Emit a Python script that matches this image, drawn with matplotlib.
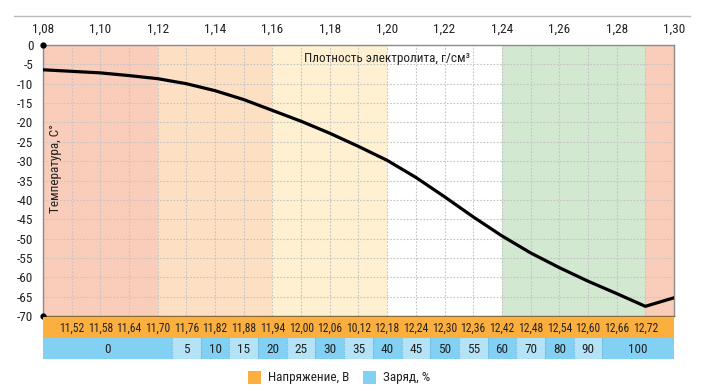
import matplotlib
matplotlib.use("Agg")
import matplotlib.pyplot as plt
from matplotlib.patches import Rectangle
from matplotlib.lines import Line2D

plt.rcParams['font.family'] = ['Roboto Condensed', 'Liberation Sans Narrow', 'Roboto', 'DejaVu Sans']

# ---- data ----
density = [1.08, 1.09, 1.10, 1.11, 1.12, 1.13, 1.14, 1.15, 1.16, 1.17, 1.18, 1.19,
           1.20, 1.21, 1.22, 1.23, 1.24, 1.25, 1.26, 1.27, 1.28, 1.29, 1.30]
temperature = [-6.4, -6.8, -7.2, -7.9, -8.7, -10.0, -11.8, -14.1, -16.9, -19.7, -22.8, -26.2,
               -29.8, -34.2, -39.2, -44.4, -49.3, -53.7, -57.5, -61.0, -64.2, -67.5, -65.3]
x_ticks = [1.08, 1.10, 1.12, 1.14, 1.16, 1.18, 1.20, 1.22, 1.24, 1.26, 1.28, 1.30]
y_ticks = [0, -5, -10, -15, -20, -25, -30, -35, -40, -45, -50, -55, -60, -65, -70]
voltage_labels = ['11,52', '11,58', '11,64', '11,70', '11,76', '11,82', '11,88', '11,94',
                  '12,00', '12,06', '10,12', '12,18', '12,24', '12,30', '12,36', '12,42',
                  '12,48', '12,54', '12,60', '12,66', '12,72']
voltage_pos = [1.09, 1.10, 1.11, 1.12, 1.13, 1.14, 1.15, 1.16, 1.17, 1.18, 1.19, 1.20,
               1.21, 1.22, 1.23, 1.24, 1.25, 1.26, 1.27, 1.28, 1.29]
charge_labels = ['0', '5', '10', '15', '20', '25', '30', '35', '40', '45', '50', '55',
                 '60', '70', '80', '90', '100']
charge_edges = [1.08, 1.125, 1.135, 1.145, 1.155, 1.165, 1.175, 1.185, 1.195, 1.205,
                1.215, 1.225, 1.235, 1.245, 1.255, 1.265, 1.275, 1.30]
zone_edges = [1.08, 1.12, 1.16, 1.20, 1.24, 1.29, 1.30]
zone_colors = ['#F9CDBA', '#FDDFC4', '#FEF0D0', '#FFFFFF', '#D2E8D1', '#F9CDBA']

W, H = 705, 391
fig = plt.figure(figsize=(W / 100, H / 100), dpi=100)
TXT = '#222222'
FS = 9.5

def rect(l, t, r, b):
    return [l / W, 1 - b / H, (r - l) / W, (b - t) / H]

XL, XR = 43, 674
ax = fig.add_axes(rect(XL, 45, XR, 316))
ax.set_xlim(1.08, 1.30)
ax.set_ylim(-70, 0)

for i in range(len(zone_colors)):
    ax.axvspan(zone_edges[i], zone_edges[i + 1], color=zone_colors[i], lw=0, zorder=0)

ax.xaxis.tick_top()
ax.set_xticks(x_ticks)
ax.set_xticklabels([f'{v:.2f}'.replace('.', ',') for v in x_ticks])
ax.xaxis.set_minor_locator(matplotlib.ticker.MultipleLocator(0.01))
ax.set_yticks(y_ticks)
ax.set_yticklabels([str(v) for v in y_ticks])
gstyle = dict(color='#C4C4C4', lw=0.8, ls=(0, (1.5, 1.5)))
ax.grid(True, which='major', **gstyle)
ax.grid(True, which='minor', axis='x', **gstyle)
ax.set_axisbelow(True)

ax.plot(density, temperature, color='black', lw=2.3, zorder=3, solid_joinstyle='round')

ax.tick_params(axis='both', which='both', length=0, labelsize=FS, colors=TXT)
ax.tick_params(axis='x', pad=7)
ax.tick_params(axis='y', pad=7)
for s in ['left', 'top', 'right']:
    ax.spines[s].set_color('#8C8C8C')
    ax.spines[s].set_linewidth(1)
ax.spines['bottom'].set_color('#8A6A3A')
ax.spines['bottom'].set_linewidth(1)

ax.plot([1.08, 1.08], [0, -70], ls='none', marker='o', ms=3.5, color='black', clip_on=False, zorder=5)

ax.text(0.545, 0.975, 'Плотность электролита, г/см³', transform=ax.transAxes,
        ha='center', va='top', fontsize=FS, color=TXT)
ax.text(0.009, 0.71, 'Температура, С°', transform=ax.transAxes, rotation=90,
        ha='left', va='top', fontsize=FS, color=TXT)

# voltage band
axv = fig.add_axes(rect(XL, 317, XR, 338))
axv.set_xlim(1.08, 1.30)
axv.set_ylim(0, 1)
axv.axis('off')
axv.add_patch(Rectangle((1.08, 0), 0.22, 1, color='#FBAF3F', lw=0))
for p, t in zip(voltage_pos, voltage_labels):
    axv.text(p, 0.47, t, ha='center', va='center', fontsize=8.4, color=TXT)

# charge band
axc = fig.add_axes(rect(XL, 338, XR, 359))
axc.set_xlim(1.08, 1.30)
axc.set_ylim(0, 1)
axc.axis('off')
for i, t in enumerate(charge_labels):
    a, b = charge_edges[i], charge_edges[i + 1]
    c = '#82D1F5' if i % 2 == 0 else '#B4E3F8'
    axc.add_patch(Rectangle((a, 0), b - a, 1, color=c, lw=0))
    axc.text((a + b) / 2, 0.47, t, ha='center', va='center', fontsize=FS, color=TXT)
    if i > 0:
        axc.plot([a, a], [0, 1], color='#6AB4D8', lw=0.8, ls=(0, (1, 1)))

# top rule
fig.add_artist(Line2D([14 / W, 690 / W], [1 - 16 / H, 1 - 16 / H], color='#BBBBBB', lw=1))

# legend
fig.add_artist(Rectangle((248 / W, 1 - 384 / H), 13 / W, 13 / H, color='#FBAF3F', lw=0))
fig.text(268 / W, 1 - 377.5 / H, 'Напряжение, В', ha='left', va='center', fontsize=FS, color=TXT)
fig.add_artist(Rectangle((363 / W, 1 - 384 / H), 13 / W, 13 / H, color='#82D1F5', lw=0))
fig.text(383 / W, 1 - 377.5 / H, 'Заряд, %', ha='left', va='center', fontsize=FS, color=TXT)

fig.savefig('out.png', dpi=100, facecolor='white')
